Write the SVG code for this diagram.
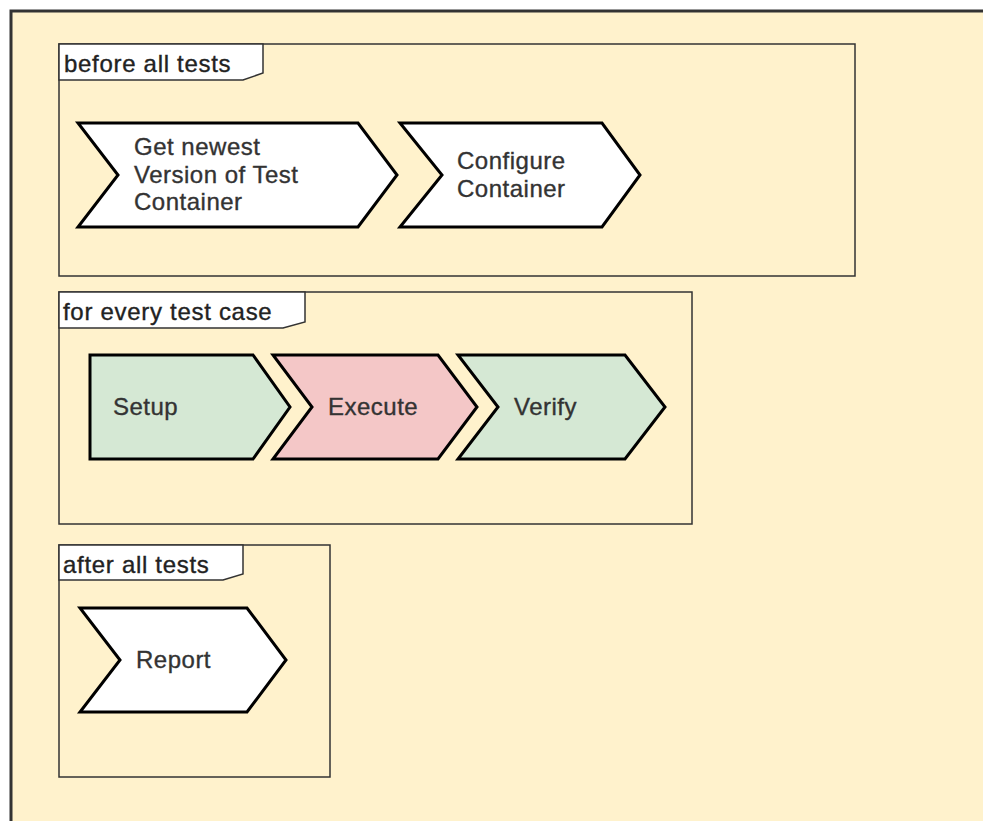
<svg xmlns="http://www.w3.org/2000/svg" width="983" height="821" viewBox="0 0 983 821">
<style>
.frame{fill:none;stroke:#333;stroke-width:1.5}
.tab{fill:#fff;stroke:#333;stroke-width:1.5}
.step{stroke:#000;stroke-width:3;stroke-linejoin:miter}
.white{fill:#fff}
.green{fill:#d5e8d4}
.red{fill:#f4c7c7}
text{font-family:"Liberation Sans",Arial,sans-serif;font-size:24px;fill:#333;stroke:#333;stroke-width:0.35;letter-spacing:0.5px}
.lbl{fill:#222;stroke:#222;letter-spacing:0.7px}
</style>
<rect x="0" y="0" width="983" height="821" fill="#fff"/>
<rect id="outer" x="11" y="11" width="1000" height="830" fill="#fff2cc" stroke="#333" stroke-width="3"/>

<g id="frame-before">
  <rect class="frame" x="59" y="44" width="796" height="232"/>
  <path class="tab" d="M59,44 L263,44 L263,73 L243,80 L59,80 Z"/>
  <text class="lbl" x="64" y="72">before all tests</text>
</g>
<g id="frame-every">
  <rect class="frame" x="59" y="292" width="633" height="232"/>
  <path class="tab" d="M59,292 L305,292 L305,322 L283,328 L59,328 Z"/>
  <text class="lbl" x="63" y="320">for every test case</text>
</g>
<g id="frame-after">
  <rect class="frame" x="59" y="545" width="271" height="232"/>
  <path class="tab" d="M59,545 L243,545 L243,574 L223,580 L59,580 Z"/>
  <text class="lbl" x="63" y="573">after all tests</text>
</g>

<g id="node-get">
  <path class="step white" d="M78,123 L358,123 L397,175 L358,227 L78,227 L118,175 Z"/>
  <text x="134" y="155">Get newest</text>
  <text x="134" y="183">Version of Test</text>
  <text x="134" y="210">Container</text>
</g>
<g id="node-configure">
  <path class="step white" d="M400,123 L602,123 L640,175 L602,227 L400,227 L442,175 Z"/>
  <text x="457" y="169">Configure</text>
  <text x="457" y="197">Container</text>
</g>
<g id="node-setup">
  <path class="step green" d="M90,355 L253,355 L290,407 L253,459 L90,459 Z"/>
  <text x="113" y="415">Setup</text>
</g>
<g id="node-execute">
  <path class="step red" d="M273,355 L438,355 L477,407 L438,459 L273,459 L312,407 Z"/>
  <text x="328" y="415">Execute</text>
</g>
<g id="node-verify">
  <path class="step green" d="M458,355 L625,355 L665,407 L625,459 L458,459 L498,407 Z"/>
  <text x="514" y="415">Verify</text>
</g>
<g id="node-report">
  <path class="step white" d="M80,608 L247,608 L286,660 L247,712 L80,712 L120,660 Z"/>
  <text x="136" y="668">Report</text>
</g>
<g id="connectors"></g>
</svg>
